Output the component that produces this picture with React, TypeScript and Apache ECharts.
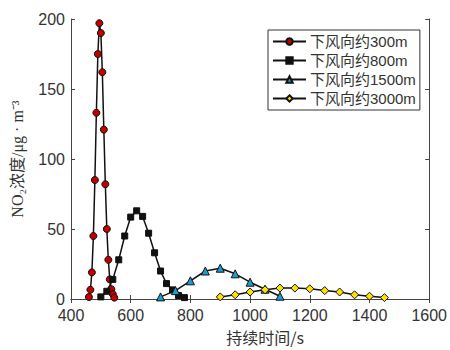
import React, { useEffect, useRef } from "react";
import * as echarts from "echarts";

const names = ["下风向约300m", "下风向约800m", "下风向约1500m", "下风向约3000m"];

const x300 = [460, 465, 470, 475, 480, 485, 490, 495, 500, 505, 510, 515, 520, 525, 530, 535, 540, 545];
const y300 = [1.4, 6.6, 19, 45, 85, 133, 175, 197, 190, 162, 121, 82, 50, 28, 14, 7, 3.5, 1];

const x800 = [500, 520, 540, 560, 580, 600, 620, 640, 660, 680, 700, 720, 740, 760, 780];
const y800 = [1.5, 5.5, 14, 28, 45, 58.5, 63, 59, 47, 33, 20, 11, 6.5, 2.5, 1];

const x1500 = [700, 750, 800, 850, 900, 950, 1000, 1050, 1100];
const y1500 = [1.5, 6, 13, 20, 22, 18, 12, 7, 2];

const x3000 = [900, 950, 1000, 1050, 1100, 1150, 1200, 1250, 1300, 1350, 1400, 1450];
const y3000 = [1.5, 3, 5, 6.6, 7.8, 7.8, 7.3, 6, 5, 3, 2, 1];

const xTicks = { min: 400, max: 1600, interval: 200 };
const yTicks = { min: 0, max: 200, interval: 50 };

const symbols = ["circle", "rect", "triangle", "diamond"];
const fills = ["#c00000", "#111111", "#1e9bd7", "#ffe100"];
const sizes = [7, 6, 8, 8];

const pairs = (xs: number[], ys: number[]) => xs.map((x, i) => [x, ys[i]]);

export default function App() {
  const ref = useRef<HTMLDivElement>(null);
  useEffect(() => {
    document.body.style.margin = "0";
    if (!ref.current) return;
    const chart = echarts.init(ref.current, null, { renderer: "svg" });
    const datasets = [pairs(x300, y300), pairs(x800, y800), pairs(x1500, y1500), pairs(x3000, y3000)];
    const axisColor = "#444";
    const labelColor = "#333";
    const font = "Arial, 'Liberation Sans', 'Noto Sans CJK SC', sans-serif";
    const plain = (v: number) => String(v);
    const baseX = {
      type: "value",
      min: xTicks.min,
      max: xTicks.max,
      interval: xTicks.interval,
      axisLine: { show: true, lineStyle: { color: axisColor, width: 1 } },
      axisTick: { show: true, inside: true, length: 4, lineStyle: { color: axisColor } },
      splitLine: { show: false },
    };
    const baseY = {
      type: "value",
      min: yTicks.min,
      max: yTicks.max,
      interval: yTicks.interval,
      axisLine: { show: true, lineStyle: { color: axisColor, width: 1 } },
      axisTick: { show: true, inside: true, length: 4, lineStyle: { color: axisColor } },
      splitLine: { show: false },
    };
    chart.setOption({
      animation: false,
      backgroundColor: "#fff",
      grid: { left: 71, right: 18, top: 19, bottom: 49, containLabel: false },
      xAxis: [
        {
          ...baseX,
          position: "bottom",
          axisLabel: { color: labelColor, fontSize: 16, fontFamily: font, margin: 8, formatter: plain },
          name: "持续时间/s",
          nameLocation: "middle",
          nameGap: 30,
          nameTextStyle: { color: labelColor, fontSize: 16, fontFamily: "'Noto Sans CJK SC', sans-serif", padding: [0, 0, 0, 30] },
        },
        { ...baseX, position: "top", axisLabel: { show: false } },
      ],
      yAxis: [
        {
          ...baseY,
          position: "left",
          axisLabel: { color: labelColor, fontSize: 16, fontFamily: font, margin: 6, formatter: plain },
          name: "NO₂浓度/μg · m⁻³",
          nameLocation: "middle",
          nameGap: 46,
          nameTextStyle: { color: labelColor, fontSize: 16, fontFamily: "'Liberation Serif', 'Noto Sans CJK SC', serif" },
        },
        { ...baseY, position: "right", axisLabel: { show: false } },
      ],
      legend: {
        orient: "vertical",
        left: 268,
        top: 30,
        backgroundColor: "#fff",
        borderColor: "#333",
        borderWidth: 1,
        borderRadius: 0,
        padding: [4, 4, 4, 4],
        itemGap: 4,
        itemWidth: 33,
        itemHeight: 8,
        textStyle: { color: labelColor, fontSize: 15, fontFamily: font, padding: [0, 0, 0, -1] },
        data: names,
      },
      series: names.map((n, i) => ({
        name: n,
        type: "line",
        xAxisIndex: 0,
        yAxisIndex: 0,
        data: datasets[i],
        symbol: symbols[i],
        symbolSize: sizes[i],
        showAllSymbol: true,
        lineStyle: { color: "#111", width: 1.5 },
        itemStyle: { color: fills[i], borderColor: "#111", borderWidth: 1 },
        z: 2 + i,
      })),
    });
    return () => chart.dispose();
  }, []);
  return <div ref={ref} style={{ width: 450, height: 350 }} />;
}
